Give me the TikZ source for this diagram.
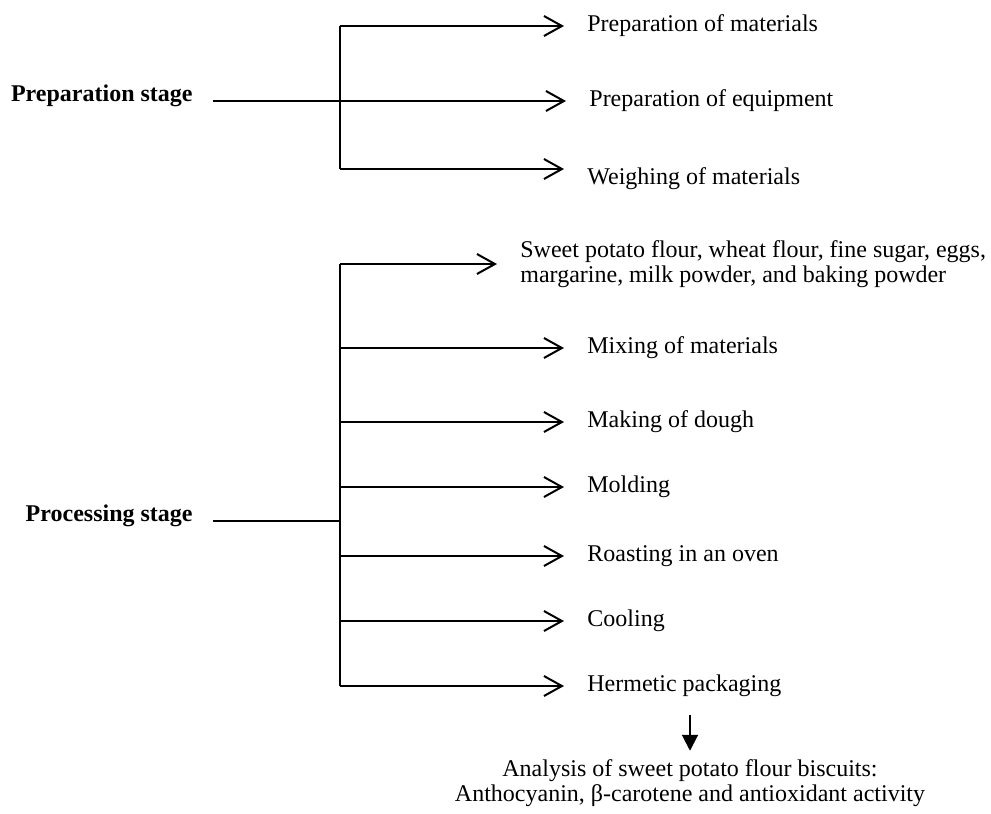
\documentclass[tikz,border=0pt]{standalone}
\usepackage{fontspec}
\setmainfont{Liberation Serif}
\usetikzlibrary{arrows.meta}

\begin{document}
\begin{tikzpicture}[x=0.5pt,y=-0.5pt,
    font=\fontsize{12}{12.8}\selectfont,
    lbl/.style={anchor=west,inner sep=0pt,text height=0.7em,text depth=0.2em},
    stage/.style={anchor=base east,inner sep=0pt,font=\fontsize{12}{12.8}\selectfont\bfseries},
    branch/.style={-{Straight Barb[length=9pt,width=10pt]},line width=1pt,shorten >=11.5pt},
    feed/.style={line width=0.6pt}]
    \useasboundingbox (0,0) rectangle (991,814);

    % preparation stage
    \node[stage] (prep) at (193,101) {Preparation stage};
    \coordinate (ptrunk) at (340,0);
    \node[lbl] (pmat) at (587,26) {Preparation of materials};
    \node[lbl] (pequip) at (589,101) {Preparation of equipment};
    \node[lbl] (pweigh) at (587,179) {Weighing of materials};
    \coordinate (pweighend) at ([yshift=5pt]pweigh.west);
    \draw[feed] ([xshift=10pt]prep.base east) -- (ptrunk |- prep.base);
    \draw[line width=1pt] (ptrunk |- pmat.west) -- (ptrunk |- pweighend);
    \draw[branch] (ptrunk |- pmat.west) -- (pmat.west);
    \draw[branch] (ptrunk |- pequip.west) -- (pequip.west);
    \draw[branch] (ptrunk |- pweighend) -- (pweighend);

    % processing stage
    \node[stage] (proc) at (193,521) {Processing stage};
    \coordinate (qtrunk) at (340,0);
    \node[anchor=west,align=left,inner sep=0pt] (qflour) at (520,264)
      {Sweet potato flour, wheat flour, fine sugar, eggs,\\margarine, milk powder, and baking powder};
    \node[lbl] (qmix) at (587,348) {Mixing of materials};
    \node[lbl] (qdough) at (587,422) {Making of dough};
    \node[lbl] (qmold) at (587,487) {Molding};
    \node[lbl] (qroast) at (587,556) {Roasting in an oven};
    \node[lbl] (qcool) at (587,621) {Cooling};
    \node[lbl] (qpack) at (587,686) {Hermetic packaging};
    \draw[feed] ([xshift=10pt]proc.base east) -- (qtrunk |- proc.base);
    \draw[line width=1pt] (qtrunk |- qflour.west) -- (qtrunk |- qpack.west);
    \draw[branch] (qtrunk |- qflour.west) -- (qflour.west);
    \draw[branch] (qtrunk |- qmix.west) -- (qmix.west);
    \draw[branch] (qtrunk |- qdough.west) -- (qdough.west);
    \draw[branch] (qtrunk |- qmold.west) -- (qmold.west);
    \draw[branch] (qtrunk |- qroast.west) -- (qroast.west);
    \draw[branch] (qtrunk |- qcool.west) -- (qcool.west);
    \draw[branch] (qtrunk |- qpack.west) -- (qpack.west);

    % analysis
    \node[align=center,inner sep=0pt] (anal) at (690,783)
      {Analysis of sweet potato flour biscuits:\\Anthocyanin, β-carotene and antioxidant activity};
    \coordinate (down) at (690,715);
    \draw[-{Triangle[length=8pt,width=8pt]},line width=1pt,shorten >=4pt] (down) -- (down |- anal.north);
\end{tikzpicture}
\end{document}
